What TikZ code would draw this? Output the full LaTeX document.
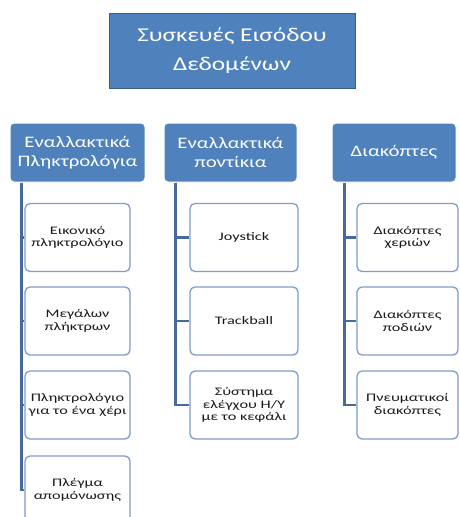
\documentclass[tikz,border=0pt]{standalone}
\usepackage{fontspec}
\setmainfont[FakeStretch=1.3]{Carlito}
\newfontfamily\itemfont[FakeStretch=1.42]{Carlito}

\begin{document}
\begin{tikzpicture}[x=1pt,y=-1pt,
  topbox/.style={draw=topline, line width=1pt, fill=boxblue, text=white, minimum width=246pt, minimum height=75pt, inner sep=0pt, align=center, font=\fontsize{19.5}{28.5}\selectfont},
  groupbox/.style={draw=white, line width=1pt, rounded corners=4pt, fill=boxblue, text=white, minimum height=59pt, inner sep=0pt, align=center, font=\fontsize{16}{19}\selectfont},
  itembox/.style={draw=itemline, line width=1.3pt, rounded corners=5pt, fill=white, text=black!90, minimum height=68pt, inner sep=0pt, align=center, font=\itemfont\fontsize{11.5}{12.5}\selectfont},
  link/.style={draw=linkblue, line width=2.2pt}]
\definecolor{boxblue}{HTML}{4F81BD}
\definecolor{topline}{HTML}{385D8A}
\definecolor{itemline}{HTML}{7F9DCB}
\definecolor{linkblue}{HTML}{46699F}
\clip (0,0) rectangle (459,517);
\fill[white] (0,0) rectangle (459,517);

\node[topbox] (input) at (232,50.5) {Συσκευές Εισόδου\\Δεδομένων};

\node[groupbox, minimum width=135pt] (keyb) at (77.5,152.5) {Εναλλακτικά\\Πληκτρολόγια};
\node[groupbox, minimum width=133pt] (mice) at (230.5,152.5) {Εναλλακτικά\\ποντίκια};
\node[groupbox, minimum width=124pt] (switch) at (394,152.5) {Διακόπτες};

\node[itembox, minimum width=105pt] (keyA) at (77.5,237.5) {Εικονικό\\πληκτρολόγιο};
\node[itembox, minimum width=105pt] (keyB) at (77.5,321) {Μεγάλων\\πλήκτρων};
\node[itembox, minimum width=105pt] (keyC) at (77.5,405) {Πληκτρολόγιο\\για το ένα χέρι};
\node[itembox, minimum width=105pt] (keyD) at (77.5,490) {Πλέγμα\\απομόνωσης};

\node[itembox, minimum width=108pt] (miceA) at (244,237.5) {Joystick};
\node[itembox, minimum width=108pt] (miceB) at (244,321) {Trackball};
\node[itembox, minimum width=108pt] (miceC) at (244,405) {Σύστημα\\ελέγχου Η/Υ\\με το κεφάλι};

\node[itembox, minimum width=101pt] (swA) at (407.5,237.5) {Διακόπτες\\χεριών};
\node[itembox, minimum width=101pt] (swB) at (407.5,321) {Διακόπτες\\ποδιών};
\node[itembox, minimum width=101pt] (swC) at (407.5,405) {Πνευματικοί\\διακόπτες};

\draw[link] ([xshift=12pt]keyb.south west) |- (keyA.west);
\draw[link] ([xshift=12pt]keyb.south west) |- (keyB.west);
\draw[link] ([xshift=12pt]keyb.south west) |- (keyC.west);
\draw[link] ([xshift=12pt]keyb.south west) |- (keyD.west);

\draw[link] ([xshift=12pt]mice.south west) |- (miceA.west);
\draw[link] ([xshift=12pt]mice.south west) |- (miceB.west);
\draw[link] ([xshift=12pt]mice.south west) |- (miceC.west);

\draw[link] ([xshift=13pt]switch.south west) |- (swA.west);
\draw[link] ([xshift=13pt]switch.south west) |- (swB.west);
\draw[link] ([xshift=13pt]switch.south west) |- (swC.west);
\end{tikzpicture}
\end{document}
